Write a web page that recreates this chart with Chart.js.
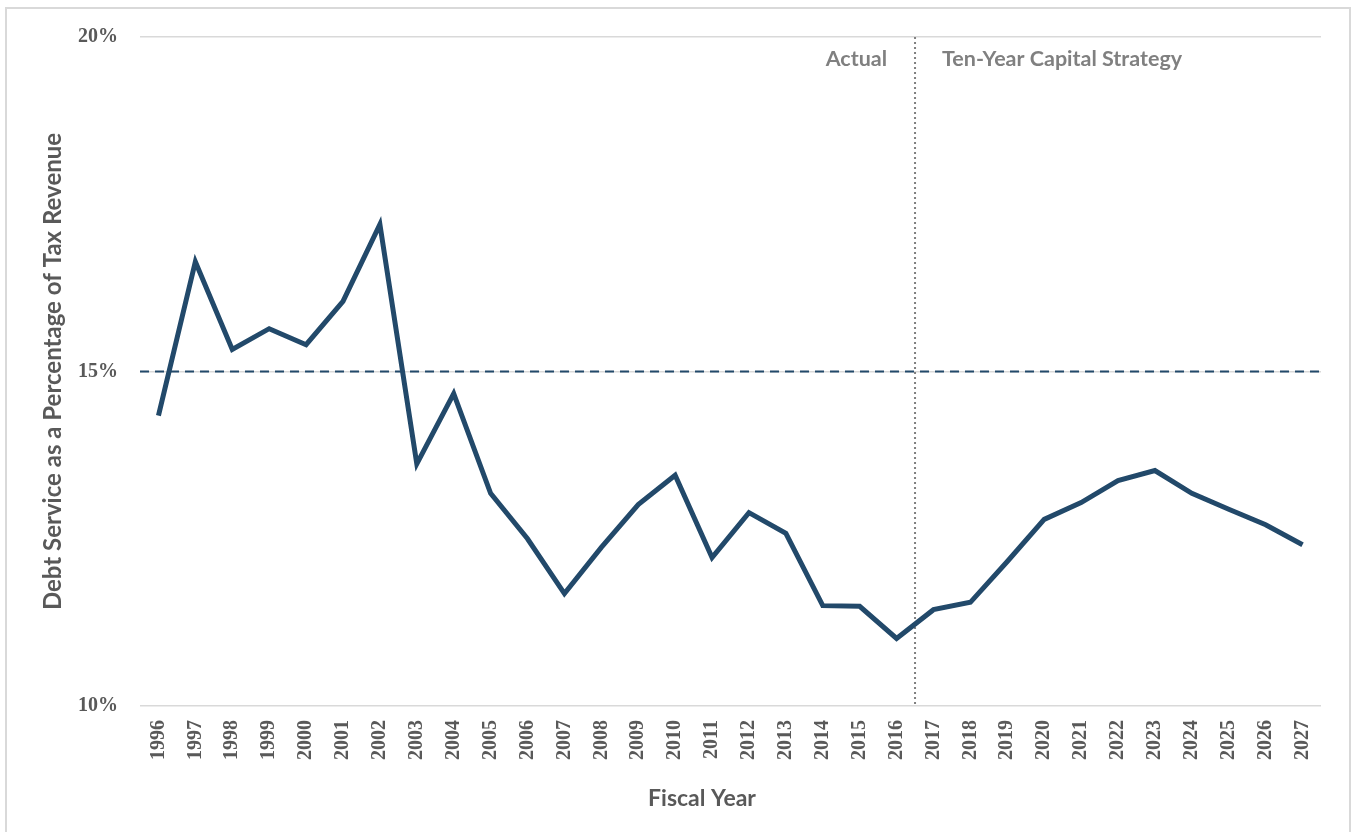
<!DOCTYPE html>
<html>
<head>
<meta charset="utf-8">
<script src="https://cdn.jsdelivr.net/npm/chart.js@4.4.1/dist/chart.umd.min.js"></script>
<style>
  html, body { margin: 0; padding: 0; background: #fff; }
  #wrap { width: 1352px; height: 832px; position: relative; }
</style>
</head>
<body>
<div id="wrap"><canvas id="myChart"></canvas></div>
<script>
const years = ['1996','1997','1998','1999','2000','2001','2002','2003','2004','2005',
  '2006','2007','2008','2009','2010','2011','2012','2013','2014','2015','2016',
  '2017','2018','2019','2020','2021','2022','2023','2024','2025','2026','2027'];
const debtService = [14.34, 16.64, 15.33, 15.64, 15.40, 16.05, 17.20, 13.62, 14.67, 13.18,
  12.50, 11.68, 12.37, 13.01, 13.45, 12.22, 12.89, 12.58, 11.50, 11.49, 11.01,
  11.44, 11.55, 12.16, 12.79, 13.04, 13.37, 13.52, 13.18, 12.94, 12.71, 12.41];
const yTicks = [10, 15, 20];
const thresholdLine = 15;
const lastActualIndex = 20; // 2016

const lineColor = '#22496a';
const textGrey = '#595959';
const noteGrey = '#808080';
const sansFont = 'Lato, "Open Sans", sans-serif';
const serifFont = '"Liberation Serif", "DejaVu Serif", serif';

// dashed 15% line, divider and labels, x title, frame
const annotations = {
    id: 'annotations',
    beforeDatasetsDraw(chart) {
        const { ctx, chartArea, scales } = chart;
        const y = scales.y.getPixelForValue(thresholdLine);
        ctx.save();
        ctx.strokeStyle = lineColor;
        ctx.lineWidth = 2;
        ctx.setLineDash([9, 6]);
        ctx.beginPath();
        ctx.moveTo(chartArea.left, y);
        ctx.lineTo(chartArea.right, y);
        ctx.stroke();

        const x = (scales.x.getPixelForValue(lastActualIndex) + scales.x.getPixelForValue(lastActualIndex + 1)) / 2;
        ctx.strokeStyle = noteGrey;
        ctx.lineWidth = 2;
        ctx.setLineDash([2, 3]);
        ctx.beginPath();
        ctx.moveTo(x, chartArea.top);
        ctx.lineTo(x, chartArea.bottom);
        ctx.stroke();
        ctx.setLineDash([]);

        ctx.fillStyle = noteGrey;
        ctx.font = 'bold 21.5px ' + sansFont;
        ctx.textBaseline = 'middle';
        ctx.textAlign = 'right';
        ctx.fillText('Actual', x - 28, chartArea.top + 22);
        ctx.textAlign = 'left';
        ctx.fillText('Ten-Year Capital Strategy', x + 27, chartArea.top + 22);

        ctx.fillStyle = textGrey;
        ctx.font = 'bold 23px ' + sansFont;
        ctx.textAlign = 'center';
        ctx.fillText('Fiscal Year', 702, 799);
        ctx.restore();
    },
    afterDraw(chart) {
        const { ctx } = chart;
        ctx.save();
        ctx.strokeStyle = '#d9d9d9';
        ctx.lineWidth = 2;
        ctx.strokeRect(6, 8, 1344, 840);
        ctx.restore();
    }
};

const ctx = document.getElementById('myChart').getContext('2d');
const myChart = new Chart(ctx, {
    type: 'line',
    data: {
        labels: years,
        datasets: [{
            label: 'Debt Service as a Percentage of Tax Revenue',
            data: debtService,
            borderColor: lineColor,
            borderWidth: 5,
            borderJoinStyle: 'miter',
            pointRadius: 0,
            tension: 0,
            fill: false
        }]
    },
    options: {
        responsive: true,
        maintainAspectRatio: false,
        animation: false,
        layout: {
            padding: { left: 0, right: 31, top: 37, bottom: 0 }
        },
        plugins: {
            legend: { display: false },
            tooltip: { enabled: false }
        },
        scales: {
            x: {
                offset: true,
                grid: { display: false, drawTicks: false },
                border: { display: false },
                ticks: {
                    minRotation: 90,
                    maxRotation: 90,
                    autoSkip: false,
                    padding: 14,
                    color: textGrey,
                    font: { family: serifFont, size: 20, weight: 'bold' }
                },
                afterFit(scale) { scale.height = 126; }
            },
            y: {
                min: 10,
                max: 20,
                afterBuildTicks(scale) { scale.ticks = yTicks.map(v => ({ value: v })); },
                grid: { color: '#d9d9d9', lineWidth: 1.5, drawTicks: false },
                border: { display: false },
                ticks: {
                    padding: 22,
                    color: textGrey,
                    font: { family: serifFont, size: 20, weight: 'bold' },
                    callback: (value) => value + '%'
                },
                title: {
                    display: true,
                    text: 'Debt Service as a Percentage of Tax Revenue',
                    color: textGrey,
                    padding: { top: 39, bottom: 0 },
                    font: { family: sansFont, size: 24, weight: 'bold' }
                },
                afterFit(scale) { scale.width = 140; }
            }
        }
    },
    plugins: [annotations]
});
</script>
</body>
</html>
